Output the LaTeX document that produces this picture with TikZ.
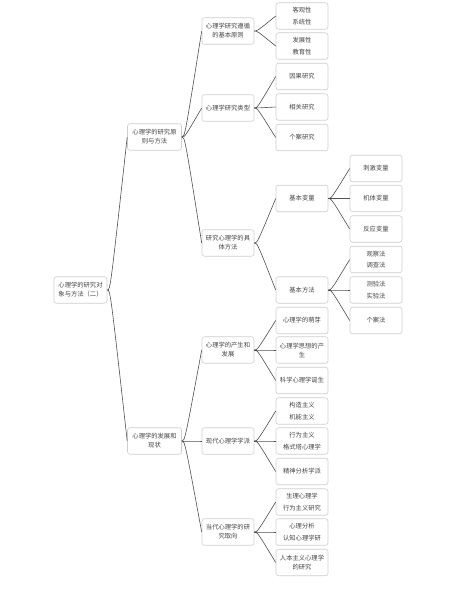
\documentclass[tikz,border=0pt]{standalone}
\usepackage{fontspec}
\setmainfont{Noto Sans CJK SC}
\usetikzlibrary{calc}
\definecolor{boxline}{HTML}{CFCFCF}
\definecolor{conn}{HTML}{505050}
\definecolor{txt}{HTML}{444444}
\tikzset{
  mbox/.style={draw=boxline, line width=0.6pt, fill=white, rounded corners=2.5pt,
    minimum width=52pt, minimum height=26.5pt, inner sep=1pt, align=center,
    text=txt, font=\fontsize{6.3}{9}\selectfont},
  wbox/.style={mbox, minimum width=54pt},
  link/.style={draw=conn, line width=0.6pt},
}
\newcommand{\conn}[2]{\draw[link] (#1.east) .. controls ($(#1.east)+(3,0)$) .. (#2.west);}
\begin{document}
\begin{tikzpicture}[x=1pt,y=-1pt]
\useasboundingbox[fill=white] (0,0) rectangle (458,600);
% root
\node[mbox, minimum width=53pt] (root) at (80.5,290) {心理学的研究对\\象与方法（二）};
% level 1
\node[wbox] (a) at (154.5,137) {心理学的研究原\\则与方法};
\node[wbox] (b) at (154.5,441) {心理学的发展和\\现状};
% level 2
\node[mbox] (a1) at (228,31) {心理学研究遵循\\的基本原则};
\node[mbox] (a2) at (228,108) {心理学研究类型};
\node[mbox] (a3) at (228,243) {研究心理学的具\\体方法};
\node[mbox] (b1) at (228,350) {心理学的产生和\\发展};
\node[mbox] (b2) at (228,441) {现代心理学学派};
\node[mbox] (b3) at (228,532) {当代心理学的研\\究取向};
% level 3
\node[mbox] (a11) at (302,16) {客观性\\[2.5pt]系统性};
\node[mbox] (a12) at (302,46) {发展性\\[2.5pt]教育性};
\node[mbox] (a21) at (302,76.5) {因果研究};
\node[mbox] (a22) at (302,107) {相关研究};
\node[mbox] (a23) at (302,137.5) {个案研究};
\node[mbox] (a31) at (302,198.5) {基本变量};
\node[mbox] (a32) at (302,290) {基本方法};
\node[mbox] (b11) at (302,320.5) {心理学的萌芽};
\node[mbox] (b12) at (302,350) {心理学思想的产\\生};
\node[mbox] (b13) at (302,380.5) {科学心理学诞生};
\node[mbox] (b21) at (302,411) {构造主义\\[2.5pt]机能主义};
\node[mbox] (b22) at (302,441) {行为主义\\[2.5pt]格式塔心理学};
\node[mbox] (b23) at (302,471.5) {精神分析学派};
\node[mbox] (b31) at (302,502) {生理心理学\\[2.5pt]行为主义研究};
\node[mbox] (b32) at (302,532) {心理分析\\[2.5pt]认知心理学研};
\node[mbox] (b33) at (302,562.5) {人本主义心理学\\的研究};
% level 4
\node[mbox] (v1) at (376,168.5) {刺激变量};
\node[mbox] (v2) at (376,198.5) {机体变量};
\node[mbox] (v3) at (376,229) {反应变量};
\node[mbox] (m1) at (376,259.5) {观察法\\[2.5pt]调查法};
\node[mbox] (m2) at (376,290) {测验法\\[2.5pt]实验法};
\node[mbox] (m3) at (376,320.5) {个案法};
% connectors
\conn{root}{a}\conn{root}{b}
\conn{a}{a1}\conn{a}{a2}\conn{a}{a3}
\conn{b}{b1}\conn{b}{b2}\conn{b}{b3}
\conn{a1}{a11}\conn{a1}{a12}
\conn{a2}{a21}\conn{a2}{a22}\conn{a2}{a23}
\conn{a3}{a31}\conn{a3}{a32}
\conn{a31}{v1}\conn{a31}{v2}\conn{a31}{v3}
\conn{a32}{m1}\conn{a32}{m2}\conn{a32}{m3}
\conn{b1}{b11}\conn{b1}{b12}\conn{b1}{b13}
\conn{b2}{b21}\conn{b2}{b22}\conn{b2}{b23}
\conn{b3}{b31}\conn{b3}{b32}\conn{b3}{b33}
\end{tikzpicture}
\end{document}
